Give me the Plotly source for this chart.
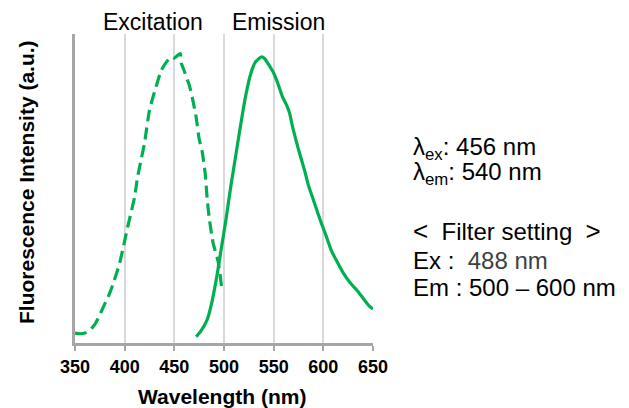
import plotly.graph_objects as go

# Excitation spectrum (dashed)
ex_wl = [350, 355, 360, 365, 370, 375, 378, 382, 385, 388, 392, 395, 398, 403, 407,
         410, 413, 417, 420, 425, 430, 437, 442, 447, 450, 453, 456, 457, 460, 462,
         465, 468, 472, 475, 478, 481, 483, 485, 489, 494, 498]
ex_int = [0.032, 0.030, 0.032, 0.042, 0.060, 0.091, 0.113, 0.14, 0.162, 0.188, 0.227,
          0.259, 0.301, 0.375, 0.43, 0.472, 0.537, 0.60, 0.647, 0.754, 0.812, 0.883,
          0.909, 0.926, 0.922, 0.930, 0.937, 0.906, 0.88, 0.861, 0.835, 0.796, 0.73,
          0.66, 0.62, 0.55, 0.47, 0.408, 0.324, 0.265, 0.172]

# Emission spectrum (solid)
em_wl = [472, 477, 483, 488, 493, 497, 502, 507, 513, 517, 521, 526, 531, 535, 538,
         541, 544, 549, 553, 559, 563, 566, 569, 573, 576, 581, 585, 590, 594, 598,
         603, 608, 614, 620, 627, 634, 640, 646, 650]
em_int = [0.02, 0.04, 0.075, 0.135, 0.22, 0.30, 0.40, 0.51, 0.63, 0.71, 0.786, 0.861,
          0.906, 0.92, 0.926, 0.92, 0.906, 0.88, 0.851, 0.796, 0.77, 0.744, 0.70, 0.65,
          0.615, 0.56, 0.51, 0.463, 0.425, 0.388, 0.345, 0.30, 0.262, 0.227, 0.195, 0.17,
          0.145, 0.12, 0.11]

x_ticks = [350, 400, 450, 500, 550, 600, 650]

GREEN = "#00b050"
FONT = "Liberation Sans, Arial, sans-serif"

fig = go.Figure()
fig.add_trace(go.Scatter(x=ex_wl, y=ex_int, mode="lines",
                         line=dict(color=GREEN, width=3.2, dash="12px,6px", shape="spline", smoothing=0.5),
                         hoverinfo="skip", showlegend=False))
fig.add_trace(go.Scatter(x=em_wl, y=em_int, mode="lines",
                         line=dict(color=GREEN, width=3.2, shape="spline", smoothing=0.5),
                         hoverinfo="skip", showlegend=False))

fig.update_layout(
    width=621, height=400,
    margin=dict(l=67, r=256, t=26, b=65),
    paper_bgcolor="white", plot_bgcolor="white",
    font=dict(family=FONT, color="black"),
    xaxis=dict(range=[350, 650], tickvals=x_ticks, ticktext=[str(t) for t in x_ticks],
               showgrid=True, gridcolor="#d9d9d9", gridwidth=2,
               showline=True, linecolor="#a6a6a6", linewidth=3,
               ticks="outside", ticklen=5, tickwidth=2, tickcolor="#a6a6a6",
               tickfont=dict(size=18, family=FONT, weight="bold"),
               zeroline=False),
    yaxis=dict(range=[0, 1], showgrid=False, showticklabels=False, ticks="",
               showline=True, linecolor="#a6a6a6", linewidth=3, zeroline=False),
)

def px(xp):
    return (xp - 75) / 298.0

def py(yp):
    return (343 - yp) / 309.0

for txt, xc in [("Excitation", 153), ("Emission", 278)]:
    fig.add_annotation(text=txt, x=px(xc), y=py(22), xref="paper", yref="paper",
                       xanchor="center", yanchor="middle", showarrow=False,
                       font=dict(size=23, family=FONT, color="black"))

fig.add_annotation(text="Wavelength (nm)", x=px(222), y=py(396), xref="paper", yref="paper",
                   xanchor="center", yanchor="middle", showarrow=False,
                   font=dict(size=21, family=FONT, color="black", weight="bold"))
fig.add_annotation(text="Fluorescence Intensity (a.u.)", x=px(26), y=py(182), xref="paper",
                   yref="paper", xanchor="center", yanchor="middle", showarrow=False,
                   textangle=-90, font=dict(size=21, family=FONT, color="black", weight="bold"))

right_lines = [
    ("λ<sub>ex</sub>: 456 nm", 148),
    ("λ<sub>em</sub>: 540 nm", 174),
    ("<span style='font-size:26px'>&lt;</span>\u00a0 Filter setting\u00a0 <span style='font-size:26px'>&gt;</span>", 231),
    ("Ex :\u00a0 <span style='color:#404040'>488 nm</span>", 260),
    ("Em : 500 – 600 nm", 287),
]
for txt, yp in right_lines:
    fig.add_annotation(text=txt, x=px(411), y=py(yp), xref="paper", yref="paper",
                       xanchor="left", yanchor="middle", showarrow=False,
                       font=dict(size=24, family=FONT, color="black"))

fig.write_html("out.html")
